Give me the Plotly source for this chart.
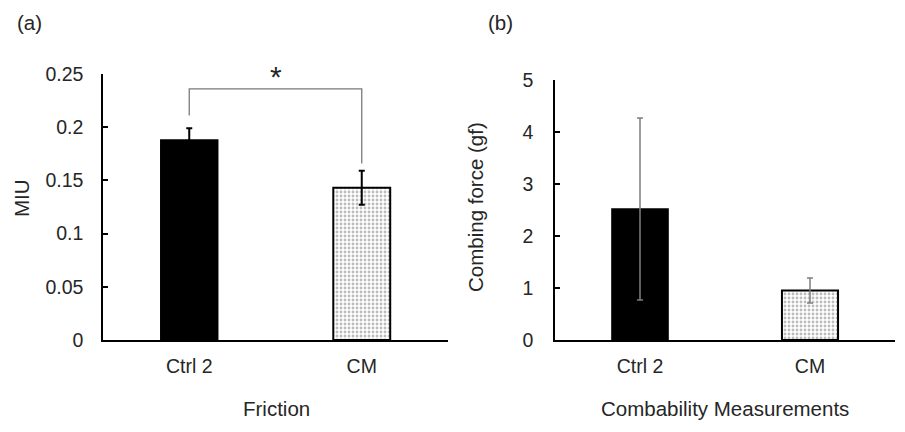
import plotly.graph_objects as go

W, H = 905, 432

categories = ["Ctrl 2", "CM"]
friction_vals = [0.188, 0.143]
friction_err = [0.011, 0.016]
comb_vals = [2.52, 0.95]
comb_err = [1.75, 0.24]
friction_ticks = [0, 0.05, 0.1, 0.15, 0.2, 0.25]
friction_ticktext = ["0", "0.05", "0.1", "0.15", "0.2", "0.25"]
comb_ticks = [0, 1, 2, 3, 4, 5]
bracket_x = ["Ctrl 2", "Ctrl 2", "CM", "CM"]
bracket_y = [0.211, 0.236, 0.236, 0.166]
star_y = 0.248

FONT = "Liberation Sans, Arial, sans-serif"
TXT = "#262626"
FS_TICK = 19.5
FS = 20.5

def px_x(p):
    return p / W

def px_y(p):
    return (H - p) / H

fig = go.Figure()

pattern = dict(shape=".", fgcolor="#7a7a7a", bgcolor="white", size=4, solidity=0.4)

# Panel (a)
fig.add_trace(go.Bar(
    x=[categories[0]], y=[friction_vals[0]],
    error_y=dict(type="data", array=[friction_err[0]], color="black", thickness=2, width=3),
    marker=dict(color="black", line=dict(color="black", width=1.5)),
    xaxis="x", yaxis="y", showlegend=False))
fig.add_trace(go.Bar(
    x=[categories[1]], y=[friction_vals[1]],
    error_y=dict(type="data", array=[friction_err[1]], color="black", thickness=2, width=3),
    marker=dict(color="white", line=dict(color="black", width=2), pattern=pattern),
    xaxis="x", yaxis="y", showlegend=False))
fig.add_trace(go.Scatter(
    x=bracket_x, y=bracket_y, mode="lines",
    line=dict(color="#7a7a7a", width=1.3),
    xaxis="x", yaxis="y", showlegend=False, hoverinfo="skip"))

# Panel (b)
fig.add_trace(go.Bar(
    x=[categories[0]], y=[comb_vals[0]],
    error_y=dict(type="data", array=[comb_err[0]], color="#7f7f7f", thickness=1.5, width=3),
    marker=dict(color="black", line=dict(color="black", width=1.5)),
    xaxis="x2", yaxis="y2", showlegend=False))
fig.add_trace(go.Bar(
    x=[categories[1]], y=[comb_vals[1]],
    error_y=dict(type="data", array=[comb_err[1]], color="#7f7f7f", thickness=1.5, width=3),
    marker=dict(color="white", line=dict(color="black", width=2), pattern=pattern),
    xaxis="x2", yaxis="y2", showlegend=False))

axis_common = dict(showgrid=False, zeroline=False, showline=True, linecolor="black",
                   linewidth=1.5, automargin=False,
                   tickfont=dict(family=FONT, size=FS_TICK, color=TXT))

fig.update_layout(
    width=W, height=H,
    margin=dict(l=0, r=0, t=0, b=0, pad=0),
    paper_bgcolor="white", plot_bgcolor="white",
    barmode="overlay", bargap=0.67,
    font=dict(family=FONT, size=FS, color=TXT),
    xaxis=dict(domain=[px_x(103), px_x(448)], anchor="y", type="category",
               categoryorder="array", categoryarray=categories,
               ticks="", ticklabelstandoff=8, **axis_common),
    yaxis=dict(domain=[px_y(340), px_y(74)], anchor="x", range=[0, 0.25],
               tickvals=friction_ticks, ticktext=friction_ticktext,
               ticks="inside", ticklen=5, tickcolor="black", tickwidth=1.5,
               ticklabelstandoff=14, **axis_common),
    xaxis2=dict(domain=[px_x(555), px_x(895)], anchor="y2", type="category",
                categoryorder="array", categoryarray=categories,
                ticks="", ticklabelstandoff=8, **axis_common),
    yaxis2=dict(domain=[px_y(340), px_y(80)], anchor="x2", range=[0, 5],
                tickvals=comb_ticks,
                ticks="inside", ticklen=5, tickcolor="black", tickwidth=1.5,
                ticklabelstandoff=16, **axis_common),
)

ann = dict(showarrow=False, xanchor="center", yanchor="middle",
           font=dict(family=FONT, size=FS, color=TXT))
fig.add_annotation(text="(a)", xref="paper", yref="paper", x=px_x(29), y=px_y(22), **ann)
fig.add_annotation(text="(b)", xref="paper", yref="paper", x=px_x(500), y=px_y(22), **ann)
fig.add_annotation(text="MIU", xref="paper", yref="paper", x=px_x(21), y=px_y(198), textangle=-90, **ann)
fig.add_annotation(text="Combing force (gf)", xref="paper", yref="paper", x=px_x(476), y=px_y(207), textangle=-90, **ann)
fig.add_annotation(text="Friction", xref="paper", yref="paper", x=px_x(276), y=px_y(408), **ann)
fig.add_annotation(text="Combability Measurements", xref="paper", yref="paper", x=px_x(725), y=px_y(408), **ann)
fig.add_annotation(text="*", xref="x", yref="y", x=0.5, y=star_y, showarrow=False,
                   xanchor="center", yanchor="middle",
                   font=dict(family=FONT, size=30, color=TXT))

fig.write_html("out.html")
